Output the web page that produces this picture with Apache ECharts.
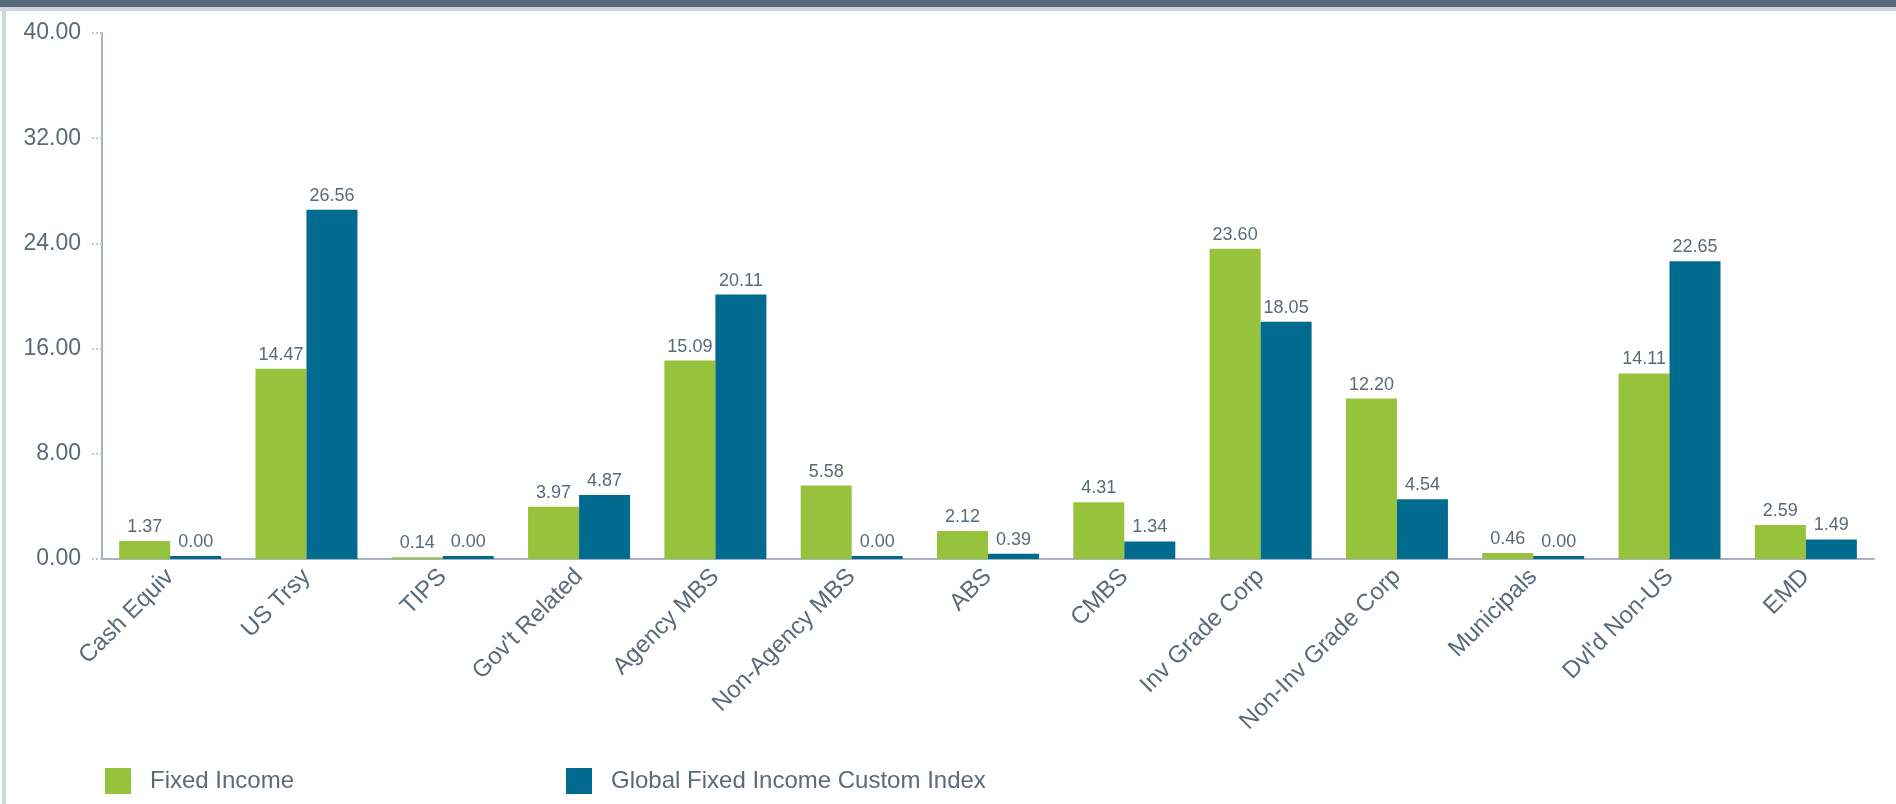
<!DOCTYPE html>
<html>
<head>
<meta charset="utf-8">
<script src="https://cdn.jsdelivr.net/npm/echarts@6/dist/echarts.min.js"></script>
<style>
  html, body { margin: 0; padding: 0; background: #fff; }
  #container { position: absolute; left: 0; top: 0; width: 1896px; height: 804px; }
  .topbar { position: absolute; left: 0; top: 0; width: 1896px; height: 7px; background: #586a7a; }
  .topline { position: absolute; left: 0; top: 7px; width: 1896px; height: 4px; background: #cfd6de; }
  .leftline { position: absolute; left: 2px; top: 11px; width: 4px; height: 793px; background: #cfd6de; }
</style>
</head>
<body>
<div id="container"></div>
<div class="topbar"></div>
<div class="topline"></div>
<div class="leftline"></div>
<script>
var categories = ['Cash Equiv', 'US Trsy', 'TIPS', "Gov't Related", 'Agency MBS', 'Non-Agency MBS',
  'ABS', 'CMBS', 'Inv Grade Corp', 'Non-Inv Grade Corp', 'Municipals', "Dvl'd Non-US", 'EMD'];
var fixedIncome = [1.37, 14.47, 0.14, 3.97, 15.09, 5.58, 2.12, 4.31, 23.60, 12.20, 0.46, 14.11, 2.59];
var customIndex = [0.00, 26.56, 0.00, 4.87, 20.11, 0.00, 0.39, 1.34, 18.05, 4.54, 0.00, 22.65, 1.49];
var seriesNames = ['Fixed Income', 'Global Fixed Income Custom Index'];

var textColor = '#5a6a7a';
var font = 'Liberation Sans, Arial, sans-serif';

var dom = document.getElementById('container');
var myChart = echarts.init(dom);

var barLabel = {
  show: true,
  position: 'top',
  distance: 5,
  color: textColor,
  fontFamily: font,
  fontSize: 18,
  formatter: function (p) { return p.value.toFixed(2); }
};

var legendText = { color: textColor, fontFamily: font, fontSize: 24, padding: [0, 0, 0, 14] };

var option = {
  animation: false,
  textStyle: { fontFamily: font },
  legend: [
    {
      data: [seriesNames[0]], left: 100, top: 763, itemWidth: 26, itemHeight: 26,
      icon: 'rect', textStyle: legendText, selectedMode: false
    },
    {
      data: [seriesNames[1]], left: 561, top: 763, itemWidth: 26, itemHeight: 26,
      icon: 'rect', textStyle: legendText, selectedMode: false
    }
  ],
  grid: { left: 102, right: 22, top: 33, bottom: 245, outerBoundsMode: 'none' },
  xAxis: {
    type: 'category',
    data: categories,
    axisLine: { lineStyle: { color: '#a8b3bf', width: 2 } },
    axisTick: { alignWithLabel: true, length: 11, lineStyle: { color: '#c3c9cf', type: 'dotted', width: 2 } },
    axisLabel: {
      rotate: 45, interval: 0, margin: 14, padding: [10, 0, 0, 0],
      color: textColor, fontFamily: font, fontSize: 24
    }
  },
  yAxis: {
    type: 'value',
    min: 0,
    max: 40,
    interval: 8,
    axisLine: { show: true, lineStyle: { color: '#a8b3bf', width: 2 } },
    axisTick: { show: true, length: 10, lineStyle: { color: '#c3c9cf', type: 'dotted', width: 2 } },
    splitLine: { show: false },
    axisLabel: {
      margin: 21, color: textColor, fontFamily: font, fontSize: 23,
      formatter: function (v) { return v.toFixed(2); }
    }
  },
  series: [
    {
      name: seriesNames[0], type: 'bar', data: fixedIncome, barWidth: 51, barGap: '0%',
      itemStyle: { color: '#97c33c' }, label: barLabel
    },
    {
      name: seriesNames[1], type: 'bar', data: customIndex, barWidth: 51, barGap: '0%',
      barMinHeight: 3, itemStyle: { color: '#006a8f' }, label: barLabel
    }
  ]
};

myChart.setOption(option);

window.addEventListener('resize', function () {
  myChart.resize();
});
</script>
</body>
</html>
